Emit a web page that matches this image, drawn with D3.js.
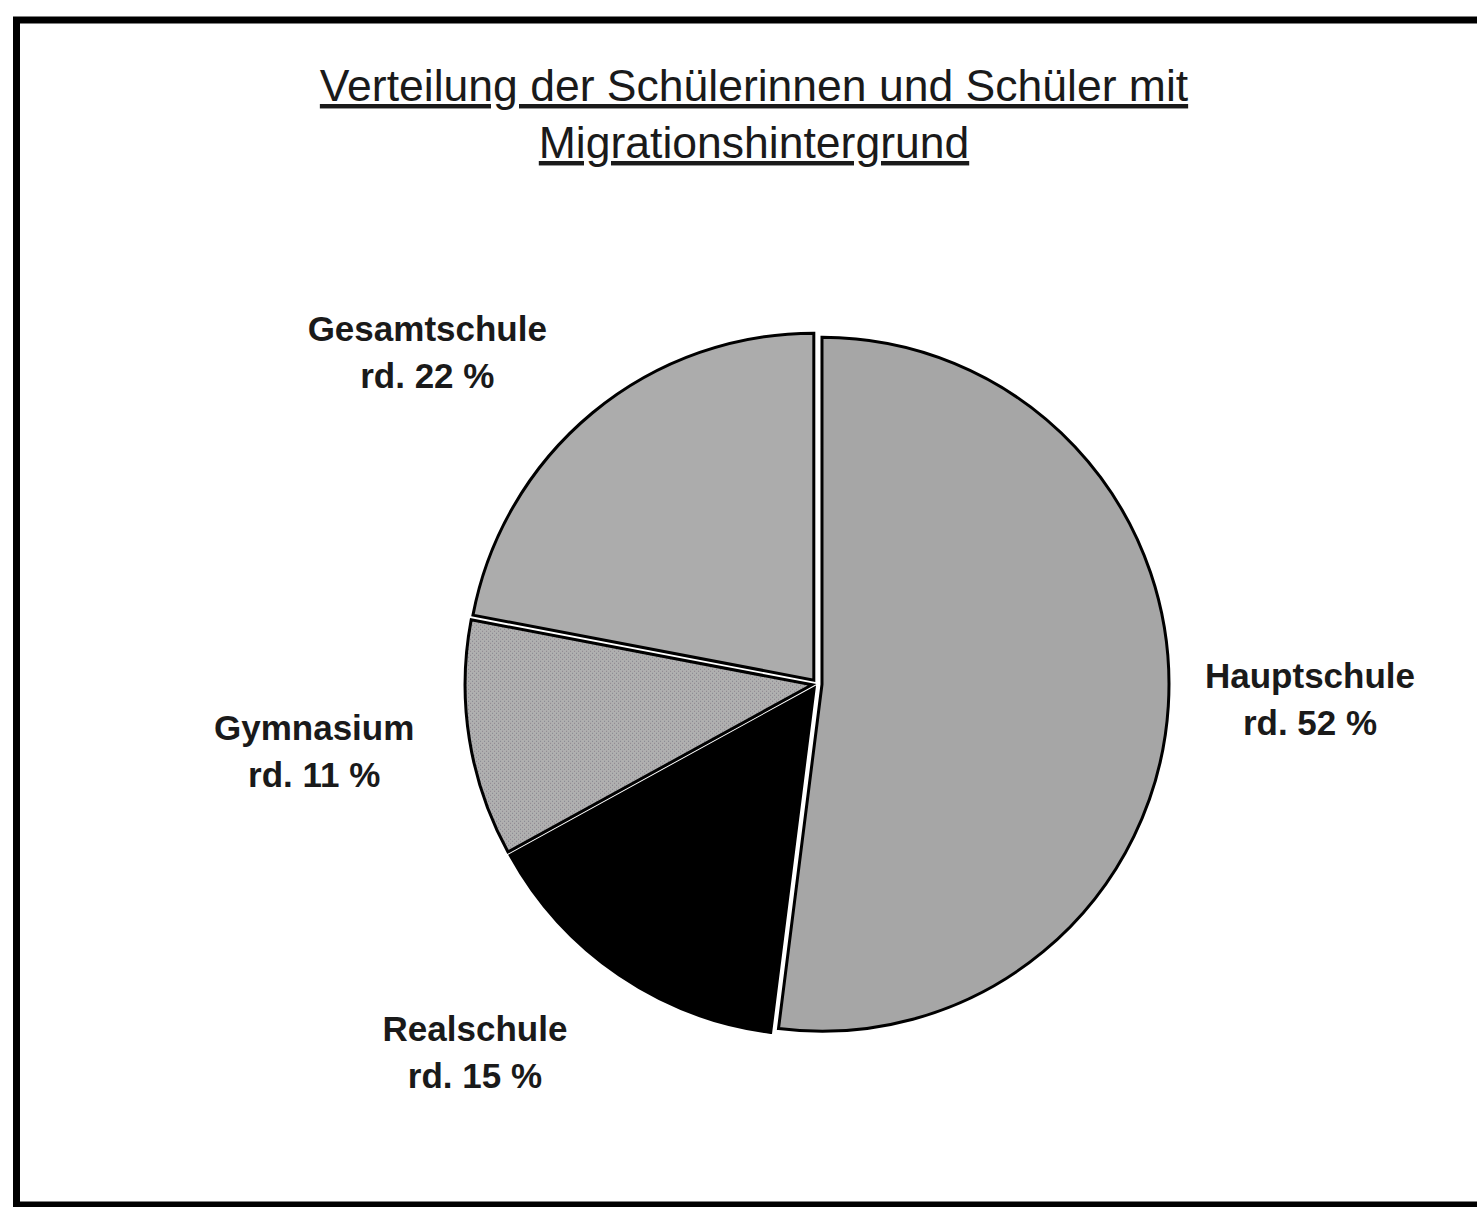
<!DOCTYPE html>
<html>
<head>
<meta charset="utf-8">
<script src="https://cdn.jsdelivr.net/npm/d3@7"></script>
<style>
  body { margin: 0; background: #fff; }
  svg { display: block; }
  .title { font-family: "Liberation Sans", Arial, sans-serif; font-size: 44.5px; fill: #1a1a1a; text-decoration: underline; }
  .lbl { font-family: "Liberation Sans", Arial, sans-serif; font-size: 35px; font-weight: bold; fill: #1a1a1a; }
</style>
</head>
<body>
<svg id="chart" width="1477" height="1207"></svg>
<script>
// data
var schools = ["Hauptschule", "Realschule", "Gymnasium", "Gesamtschule"];
var shares = [52, 15, 11, 22];
var titleLines = ["Verteilung der Schülerinnen und Schüler mit", "Migrationshintergrund"];

var svg = d3.select("svg#chart"),
    width = +svg.attr("width"),
    height = +svg.attr("height");

var cx = 817, cy = 684, radius = 347, explode = 5;

// fills: grey, black, dotted grey, grey
var defs = svg.append("defs");
var pat = defs.append("pattern")
    .attr("id", "dots")
    .attr("width", 4).attr("height", 4)
    .attr("patternUnits", "userSpaceOnUse");
pat.append("rect").attr("width", 4).attr("height", 4).attr("fill", "#b0b0b0");
pat.append("rect").attr("x", 0).attr("y", 0).attr("width", 1).attr("height", 1).attr("fill", "#7f7f8a");
pat.append("rect").attr("x", 2).attr("y", 2).attr("width", 1).attr("height", 1).attr("fill", "#8a7f8a");

var fills = ["#a6a6a6", "#000000", "url(#dots)", "#acacac"];

// frame
svg.append("rect")
  .attr("x", 16.5)
  .attr("y", 20)
  .attr("width", 1500)
  .attr("height", 1185)
  .attr("fill", "none")
  .attr("stroke", "#000")
  .attr("stroke-width", 7);

// title
svg.append("g").selectAll("text")
  .data(titleLines)
  .enter().append("text")
  .attr("class", "title")
  .attr("x", 754)
  .attr("y", function(d, i) { return 101 + i * 57; })
  .attr("text-anchor", "middle")
  .text(function(d) { return d; });

var pie = d3.pie().sort(null).value(function(d) { return d; });
var arcs = pie(shares);

var arc = d3.arc().innerRadius(0).outerRadius(radius);

var g = svg.append("g")
  .attr("transform", "translate(" + cx + "," + cy + ")");

function mid(d) { return (d.startAngle + d.endAngle) / 2; }

g.selectAll("path.slice")
  .data(arcs)
  .enter().append("path")
  .attr("class", "slice")
  .attr("transform", function(d) {
    var p = d3.pointRadial(mid(d), explode);
    return "translate(" + p[0] + "," + p[1] + ")";
  })
  .attr("d", arc)
  .attr("fill", function(d, i) { return fills[i]; })
  .attr("stroke", "#000")
  .attr("stroke-width", 3)
  .attr("stroke-linejoin", "miter");

// labels: placed on an outer ring, with Excel-like nudges
var labelRadius = 500;
var nudge = [[-6, -16], [-61, -46], [-9, -11], [-71, 53]];

var lbl = g.selectAll("text.lbl")
  .data(arcs)
  .enter().append("text")
  .attr("class", "lbl")
  .attr("text-anchor", "middle")
  .attr("transform", function(d, i) {
    var p = d3.pointRadial(mid(d), labelRadius);
    return "translate(" + (p[0] + nudge[i][0]) + "," + (p[1] + nudge[i][1]) + ")";
  });

lbl.append("tspan")
  .attr("x", 0)
  .attr("y", -11)
  .text(function(d, i) { return schools[i]; });

lbl.append("tspan")
  .attr("x", 0)
  .attr("y", 36)
  .text(function(d) { return "rd. " + d.data + " %"; });
</script>
</body>
</html>
